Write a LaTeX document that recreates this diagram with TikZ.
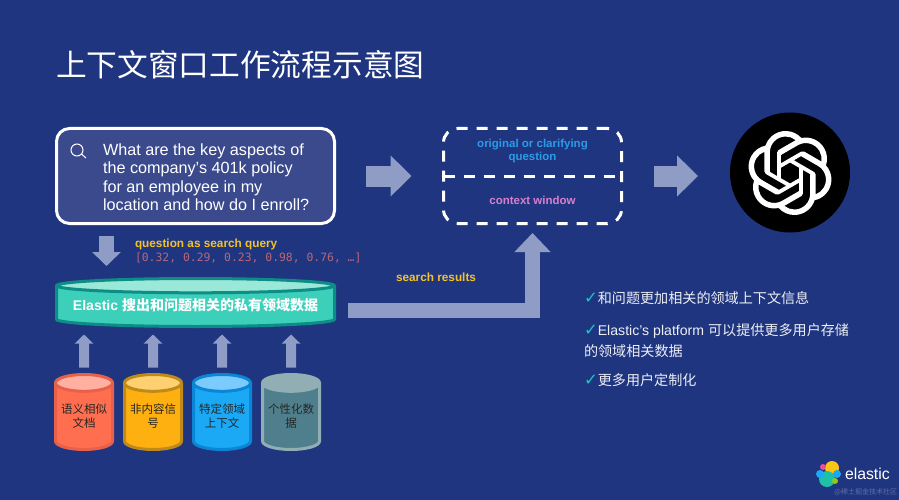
\documentclass[tikz,border=0pt]{standalone}
\usepackage{fontspec}
\setmainfont{Liberation Sans}
\setmonofont{DejaVu Sans Mono}
\newfontfamily\cjk{Noto Sans CJK SC}
\newfontfamily\tick{DejaVu Sans}
\usepackage{xcolor}
\usetikzlibrary{shapes.geometric, arrows.meta, positioning, svg.path}
\definecolor{bgblue}{HTML}{1F3580}
\definecolor{querybg}{HTML}{3A4A8C}
\definecolor{arrowblue}{HTML}{8F9DC6}
\definecolor{checkteal}{HTML}{1FC3C6}
\definecolor{labelyellow}{HTML}{F2C22E}
\definecolor{vectorred}{HTML}{B5687A}
\definecolor{originalblue}{HTML}{2B9BE8}
\definecolor{contextpink}{HTML}{D77FD0}
\definecolor{elasticedge}{HTML}{0E8C86}
\definecolor{elasticfill}{HTML}{3CCFBA}
\definecolor{elastictop}{HTML}{9AE8D8}
\definecolor{docedge}{HTML}{E8604A}
\definecolor{docfill}{HTML}{FF6F4F}
\definecolor{doctop}{HTML}{FFB0A0}
\definecolor{signaledge}{HTML}{BF8A1A}
\definecolor{signalfill}{HTML}{FDB010}
\definecolor{signaltop}{HTML}{FFD070}
\definecolor{domainedge}{HTML}{0B85D5}
\definecolor{domainfill}{HTML}{1BA9F5}
\definecolor{domaintop}{HTML}{7CCBFF}
\definecolor{personaledge}{HTML}{92AEB5}
\definecolor{personalfill}{HTML}{4F7F8C}
\definecolor{brandyellow}{HTML}{FEC514}
\definecolor{brandteal}{HTML}{1FBFA8}
\definecolor{brandpink}{HTML}{F04E98}
\definecolor{brandblue}{HTML}{1BA9F5}
\definecolor{brandgreen}{HTML}{93C90E}
\newcommand{\checkmk}{{\tick\bfseries\fontsize{16.5}{21}\selectfont\color{checkteal}✓}}

\begin{document}
\begin{tikzpicture}[
    x=1pt, y=-1pt,
    every node/.style={outer sep=0pt, inner sep=0pt, text=white},
    querybox/.style={rectangle, draw=white, line width=3pt, rounded corners=13pt, fill=querybg, minimum width=278pt, minimum height=95pt},
    windowbox/.style={rectangle, draw=white, line width=3pt, rounded corners=14pt, dash pattern=on 11pt off 9pt, minimum width=178pt, minimum height=95pt},
    store/.style={cylinder, shape border rotate=90, inner xsep=28pt, aspect=0.3, draw, line width=3pt, cylinder uses custom fill, minimum width=57pt, minimum height=75pt},
    storetext/.style={align=center, text=black!85, font=\cjk\fontsize{11.5}{13.5}\selectfont},
    bigarrow/.style={draw=arrowblue, line width=21pt, -{Triangle[width=40pt, length=21pt]}},
    midarrow/.style={draw=arrowblue, line width=15pt, -{Triangle[width=28pt, length=14pt]}},
    smallarrow/.style={draw=arrowblue, line width=10pt, -{Triangle[width=18pt, length=9pt]}},
    resultarrow/.style={draw=arrowblue, line width=15pt, -{Triangle[width=35pt, length=19pt]}},
    hint/.style={text=labelyellow, font=\bfseries\fontsize{11.8}{13}\selectfont},
    point/.style={anchor=west, text=white!92!bgblue, font=\fontsize{14.1}{21}\selectfont},
]
\useasboundingbox (0,0) rectangle (899,500);
\fill[bgblue] (0,0) rectangle (899,500);

% Title
\node[anchor=west, font=\cjk\fontsize{30.7}{34}\selectfont] (title) at (56,65) {上下文窗口工作流程示意图};

% Query and context window
\node[querybox] (query) at (195.5,176) {};
\node[anchor=west, align=left, font=\fontsize{16.2}{18.5}\selectfont] (question) at (103,177) {What are the key aspects of\\the company's 401k policy\\for an employee in my\\location and how do I enroll?};
\node[circle, draw=white, line width=1pt, minimum size=12pt] (lens) at (77,150) {};
\coordinate (lensend) at (86,158);
\draw[white, line width=1pt] (lens) -- (lensend);

\node[windowbox, right=109pt of query] (window) {};
\draw[white, line width=3pt, dash pattern=on 11pt off 9pt] (window.west) -- (window.east);
\node[text=originalblue, align=center, font=\bfseries\fontsize{11.5}{13}\selectfont] (original) at (532.5,151.5) {original or clarifying\\question};
\node[text=contextpink, font=\bfseries\fontsize{11.5}{13}\selectfont] (context) at (532.5,200) {context window};

% Model
\node[circle, fill=black, minimum size=120pt] (model) at (790,172.5) {};
\fill[white, even odd rule, shift={(748,131)}, scale=3.5, yscale=-1] svg {M22.2819 9.8211a5.9847 5.9847 0 0 0-.5157-4.9108 6.0462 6.0462 0 0 0-6.5098-2.9A6.0651 6.0651 0 0 0 4.9807 4.1818a5.9847 5.9847 0 0 0-3.9977 2.9 6.0462 6.0462 0 0 0 .7427 7.0966 5.98 5.98 0 0 0 .511 4.9107 6.051 6.051 0 0 0 6.5146 2.9001A5.9847 5.9847 0 0 0 13.2599 24a6.0557 6.0557 0 0 0 5.7718-4.2058 5.9894 5.9894 0 0 0 3.9977-2.9001 6.0557 6.0557 0 0 0-.7475-7.0729z
M13.2599 22.4292a4.4755 4.4755 0 0 1-2.8764-1.0408l.1419-.0804 4.7783-2.7582a.7948 .7948 0 0 0 .3927-.6813v-6.7369l2.02 1.1686a.071 .071 0 0 1 .038.052v5.5826a4.504 4.504 0 0 1-4.4945 4.4944z
M3.5992 18.3038a4.4708 4.4708 0 0 1-.5346-3.0137l.142.0852 4.783 2.7582a.7712 .7712 0 0 0 .7806 0l5.8428-3.3685v2.3324a.0804 .0804 0 0 1-.0332.0615L9.74 19.9502a4.4992 4.4992 0 0 1-6.1408-1.6464z
M2.3408 7.8956a4.485 4.485 0 0 1 2.3655-1.9728V11.6a.7664 .7664 0 0 0 .3879.6765l5.8144 3.3543-2.0201 1.1685a.0757 .0757 0 0 1-.071 0l-4.8303-2.7865A4.504 4.504 0 0 1 2.3408 7.872z
M18.9371 11.7514L13.1038 8.364 15.1192 7.2a.0757 .0757 0 0 1 .071 0l4.8303 2.7913a4.4944 4.4944 0 0 1-.6765 8.1042v-5.6772a.79 .79 0 0 0-.407-.667z
M20.9478 8.7283l-.142-.0852-4.7735-2.7818a.7759 .7759 0 0 0-.7854 0L9.409 9.2297V6.8974a.0662 .0662 0 0 1 .0284-.0615l4.8303-2.7866a4.4992 4.4992 0 0 1 6.6802 4.66z
M8.3065 12.863l-2.02-1.1638a.0804 .0804 0 0 1-.038-.0567V6.0742a4.4992 4.4992 0 0 1 7.3757-3.4537l-.142.0805L8.704 5.459a.7948 .7948 0 0 0-.3927.6813z
M9.4041 10.4976l2.602-1.4998 2.6069 1.4998v2.9994l-2.5974 1.4997-2.6067-1.4997Z};

% Elastic store
\node[store, draw=elasticedge, cylinder body fill=elasticfill, cylinder end fill=elastictop, minimum width=278pt, minimum height=48pt, inner xsep=130pt, aspect=0.055, anchor=shape center] (elastic) at (195.5,302.5) {};
\node[text=white, font=\bfseries\fontsize{14}{17}\selectfont, yshift=-2.5pt] (elastictext) at (elastic.shape center) {Elastic {\cjk 搜出和问题相关的私有领域数据}};

% Source stores
\node[store, draw=docedge, cylinder body fill=docfill, cylinder end fill=doctop, anchor=shape center] (docs) at (84,412) {};
\node[store, draw=signaledge, cylinder body fill=signalfill, cylinder end fill=signaltop, right=12pt of docs] (signals) {};
\node[store, draw=domainedge, cylinder body fill=domainfill, cylinder end fill=domaintop, right=12pt of signals] (domain) {};
\node[store, draw=personaledge, cylinder body fill=personalfill, cylinder end fill=personaledge, right=12pt of domain] (personal) {};
\foreach \src/\txt in {docs/{语义相似\\文档}, signals/{非内容信\\号}, domain/{特定领域\\上下文}, personal/{个性化数\\据}}
    \node[storetext, yshift=-4pt] (\src text) at (\src.shape center) {\txt};

% Labels
\node[hint, anchor=west] (querylabel) at (135,244) {question as search query};
\node[anchor=west, text=vectorred, font=\ttfamily\fontsize{11.4}{13}\selectfont] (vector) at (135,258) {[0.32, 0.29, 0.23, 0.98, 0.76, …]};
\node[hint, anchor=west] (resultlabel) at (396,277.5) {search results};

% Arrows
\draw[bigarrow, shorten <=31.5pt, shorten >=32pt] (query) -- (window);
\draw[bigarrow, shorten <=32.5pt, shorten >=32pt] (window) -- (window -| model.west);
\draw[midarrow, shorten <=12.5pt, shorten >=12.5pt] ([xshift=-89pt]query.south) -- ([xshift=-89pt]elastic.north);
\draw[resultarrow, shorten <=13pt, shorten >=9.5pt] (elastic.east) -| (window.south);
\foreach \src in {docs, signals, domain, personal}
    \draw[smallarrow, shorten <=7pt, shorten >=8pt] (\src) -- (\src |- elastic.south);

% Points
\node[point] (pointa) at (584,298) {\checkmk{\cjk 和问题更加相关的领域上下文信息}};
\node[point, align=left] (pointb) at (584,340.5) {\checkmk Elastic’s platform {\cjk 可以提供更多用户存储}\\{\cjk 的领域相关数据}};
\node[point] (pointc) at (584,380) {\checkmk{\cjk 更多用户定制化}};

% Brand
\fill[brandyellow] (832,468) circle (7pt);
\fill[brandteal] (827,479) circle (8pt);
\fill[brandpink] (823,467) circle (3pt);
\fill[brandblue] (820,474) circle (4pt);
\fill[brandblue] (837,474) circle (4pt);
\fill[brandgreen] (835,481) circle (3pt);
\node[anchor=west, font=\fontsize{15.8}{20}\selectfont] (brand) at (845,473.5) {elastic};
\node[anchor=east, text=white!28!bgblue, font=\cjk\fontsize{7}{8}\selectfont] (mark) at (897,492) {@稀土掘金技术社区};
\end{tikzpicture}
\end{document}
